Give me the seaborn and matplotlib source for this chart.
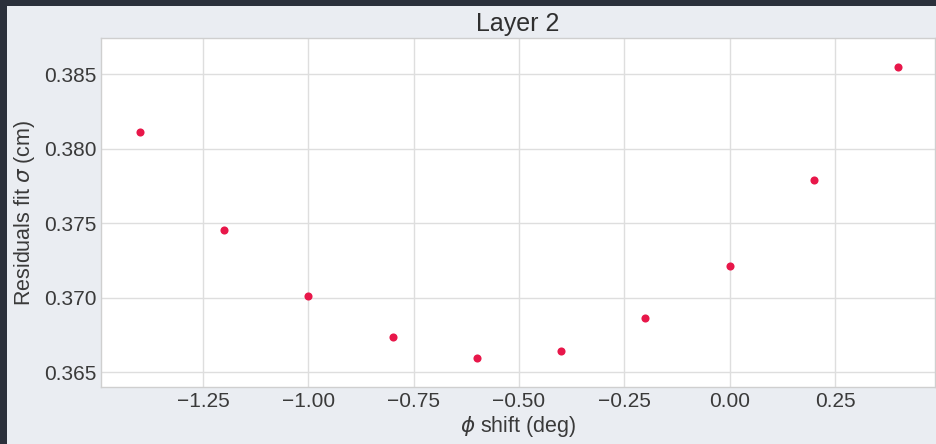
import matplotlib
matplotlib.use("Agg")
import matplotlib.pyplot as plt
from matplotlib.patches import Rectangle
import seaborn as sns
import pandas as pd

# phi shift scan for layer 2 and the fitted residual width
phi_shift = [-1.4, -1.2, -1.0, -0.8, -0.6, -0.4, -0.2, 0.0, 0.2, 0.4]
sigma_fit = [0.38115, 0.37458, 0.37013, 0.36740, 0.36594,
             0.36643, 0.36861, 0.37215, 0.37794, 0.38547]
x_ticks = [-1.25, -1.00, -0.75, -0.50, -0.25, 0.00, 0.25]
y_ticks = [0.365, 0.370, 0.375, 0.380, 0.385]

df = pd.DataFrame({"phi": phi_shift, "sigma": sigma_fit})

sns.set_theme(style="whitegrid")
plt.rcParams["font.family"] = ["Liberation Sans", "DejaVu Sans"]
plt.rcParams["mathtext.fontset"] = "dejavusans"

W, H = 936, 444
fig = plt.figure(figsize=(W / 100, H / 100), dpi=100)
fig.patch.set_facecolor("#eaedf2")

ax = fig.add_axes([101 / W, 1 - 387 / H, (935 - 101) / W, (387 - 38) / H])
ax.set_facecolor("white")

sns.scatterplot(data=df, x="phi", y="sigma", ax=ax, color="#e8174a",
                s=34, linewidth=0, zorder=3)

ax.set_xlim(-1.492, 0.487)
ax.set_ylim(0.36401, 0.38744)
ax.set_xticks(x_ticks)
ax.set_xticklabels([f"{t:.2f}".replace("-", "\u2212") for t in x_ticks])
ax.set_yticks(y_ticks)
ax.set_yticklabels([f"{t:.3f}" for t in y_ticks])

ax.grid(True, color="#dedede", linewidth=1.0)
for sp in ax.spines.values():
    sp.set_color("#cfcfcf")
    sp.set_linewidth(1.0)

ax.tick_params(axis="both", labelsize=15, colors="#3a3a3a", length=0, pad=3.5)
ax.set_xlabel(r"$\phi$ shift (deg)", fontsize=15.5, color="#3a3a3a", labelpad=2)
ax.set_ylabel(r"Residuals fit $\sigma$ (cm)", fontsize=15.5, color="#3a3a3a", labelpad=5)
ax.set_title("Layer 2", fontsize=18, color="#2f2f2f", pad=5)

# dark window frame along the top and left edges
frame = "#2b303b"
fig.patches.append(Rectangle((0, 1 - 6 / H), 1, 6 / H, transform=fig.transFigure,
                             facecolor=frame, edgecolor="none", zorder=10))
fig.patches.append(Rectangle((0, 0), 7 / W, 1, transform=fig.transFigure,
                             facecolor=frame, edgecolor="none", zorder=10))

fig.savefig("out.png", dpi=100, facecolor=fig.get_facecolor())
